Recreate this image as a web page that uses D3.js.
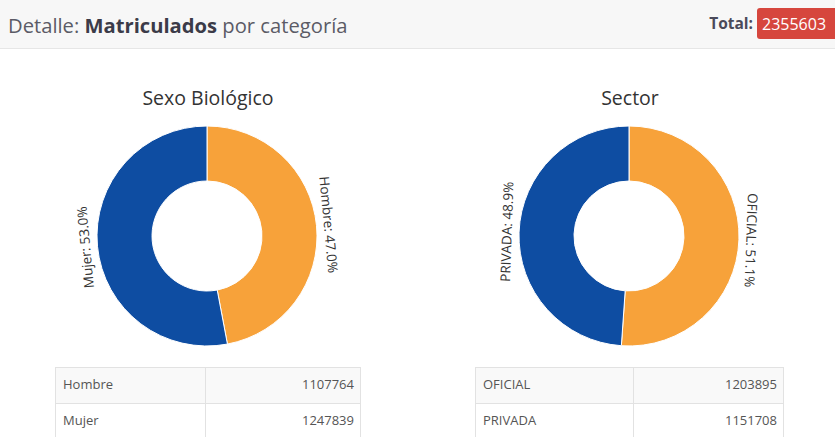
<!DOCTYPE html>
<html>
<head>
<meta charset="utf-8">
<script src="https://cdn.jsdelivr.net/npm/d3@7"></script>
<style>
  html, body { margin: 0; padding: 0; background: #fff; }
  svg { display: block; font-family: "Open Sans", sans-serif; }
</style>
</head>
<body>
<svg id="chart" width="835" height="437"></svg>
<script>
// ---- data ----
const total = 2355603;
const sexoTitle = "Sexo Biológico";
const sexoCategories = ["Hombre", "Mujer"];
const sexoValues = [1107764, 1247839];
const sectorTitle = "Sector";
const sectorCategories = ["OFICIAL", "PRIVADA"];
const sectorValues = [1203895, 1151708];
const sliceColors = ["#F7A23A", "#0E4DA2"];

const svg = d3.select("#chart");
const W = 835, H = 437;

// ---- header ----
svg.append("rect").attr("x", 0).attr("y", 0).attr("width", W).attr("height", 48).attr("fill", "#f7f7f7");
svg.append("line").attr("x1", 0).attr("x2", W).attr("y1", 48.5).attr("y2", 48.5).attr("stroke", "#e6e6e6");
const ht = svg.append("text").attr("x", 8).attr("y", 33).attr("font-size", 20.2).attr("fill", "#5b5b66");
ht.append("tspan").text("Detalle: ");
ht.append("tspan").attr("font-weight", 700).attr("fill", "#3b3b48").text("Matriculados");
ht.append("tspan").text(" por categoría");

svg.append("text").attr("x", 753).attr("y", 29).attr("text-anchor", "end")
  .attr("font-size", 15.5).attr("font-weight", 700).attr("fill", "#4a4a5a").text("Total:");
svg.append("rect").attr("x", 757).attr("y", 8).attr("width", 90).attr("height", 31).attr("rx", 3)
  .attr("fill", "#d6463d");
svg.append("text").attr("x", 762).attr("y", 30).attr("font-size", 16).attr("fill", "#fff")
  .text(d3.format("d")(total));

// ---- donuts ----
const outerR = 110, innerR = 55, labelR = 116;
const arc = d3.arc().innerRadius(innerR).outerRadius(outerR);
const pie = d3.pie().sort(null).value(d => d.value);
const pct = d3.format(".1f");

function donut(cx, cy, title, cats, vals) {
  const data = cats.map((c, i) => ({ name: c, value: vals[i] }));
  const sum = d3.sum(vals);
  const color = d3.scaleOrdinal().domain(cats).range(sliceColors);
  svg.append("text").attr("x", cx + 1).attr("y", cy - 131).attr("text-anchor", "middle")
    .attr("font-size", 19.5).attr("fill", "#333").text(title);
  const g = svg.append("g").attr("transform", `translate(${cx},${cy})`);
  const arcs = pie(data);
  g.selectAll("path").data(arcs).join("path")
    .attr("d", arc).attr("fill", d => color(d.data.name))
    .attr("stroke", "#fff").attr("stroke-width", 1);
  g.selectAll("text.lbl").data(arcs).join("text").attr("class", "lbl")
    .attr("transform", d => {
      const a = (d.startAngle + d.endAngle) / 2;
      const x = labelR * Math.sin(a), y = -labelR * Math.cos(a);
      return `translate(${x},${y}) rotate(${a * 180 / Math.PI})`;
    })
    .attr("text-anchor", "middle").attr("dy", "-0.1em")
    .attr("font-size", 13.5).attr("fill", "#333")
    .text(d => `${d.data.name}: ${pct(d.data.value / sum * 100)}%`);
}

donut(207, 236, sexoTitle, sexoCategories, sexoValues);
donut(629, 236, sectorTitle, sectorCategories, sectorValues);

// ---- tables ----
function table(x0, xMid, x1, cats, vals) {
  const y0 = 367, rowH = 36;
  const y = d3.scaleBand().domain(cats).range([y0, y0 + rowH * cats.length]);
  const g = svg.append("g");
  cats.forEach((c, i) => {
    const ry = y(c);
    g.append("rect").attr("x", x0 + 0.5).attr("y", ry + 0.5).attr("width", x1 - x0).attr("height", rowH)
      .attr("fill", i % 2 === 0 ? "#f9f9f9" : "#fff").attr("stroke", "#e2e2e2");
    g.append("line").attr("x1", xMid + 0.5).attr("x2", xMid + 0.5).attr("y1", ry).attr("y2", ry + rowH)
      .attr("stroke", "#e2e2e2");
    g.append("text").attr("x", x0 + 8).attr("y", ry + 22).attr("font-size", 13).attr("fill", "#555").text(c);
    g.append("text").attr("x", x1 - 6).attr("y", ry + 22).attr("text-anchor", "end")
      .attr("font-size", 13).attr("fill", "#555").text(d3.format("d")(vals[i]));
  });
}
table(55, 205, 360, sexoCategories, sexoValues);
table(475, 633, 783, sectorCategories, sectorValues);
</script>
</body>
</html>
